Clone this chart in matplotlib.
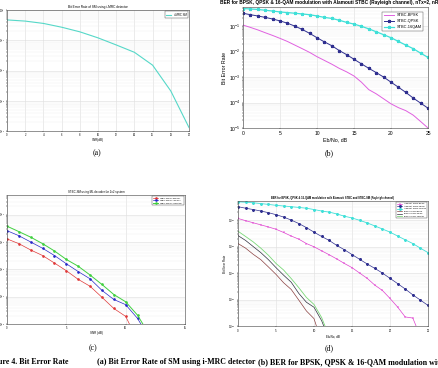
import numpy as np
import matplotlib
matplotlib.use('Agg')
import matplotlib.pyplot as plt

plt.rcParams['font.family'] = ['Liberation Sans', 'DejaVu Sans']

# (a) SM with i-MRC detector
snr_a = [0, 2, 4, 6, 8, 10, 12, 14, 16, 18, 20]
ber_a = [0.47, 0.43, 0.36, 0.27, 0.19, 0.12, 0.07, 0.04, 0.015, 0.0021, 0.00013]

# (b) Alamouti STBC
eb = list(range(26))
stbc_bpsk = [0.11, 0.089, 0.071, 0.055, 0.043, 0.033, 0.025, 0.018, 0.013, 0.0093,
             0.0063, 0.0045, 0.0032, 0.0022, 0.0016, 0.0011, 6.3e-4, 3.2e-4, 2.2e-4, 1.4e-4,
             8.9e-5, 6.3e-5, 4.8e-5, 3.2e-5, 1.8e-5, 1.0e-5]
stbc_qpsk = [0.32, 0.28, 0.25, 0.22, 0.19, 0.16, 0.13, 0.10, 0.074, 0.052,
             0.035, 0.024, 0.017, 0.011, 0.0076, 0.005, 0.0033, 0.0022, 0.0015, 0.001,
             6.3e-4, 4.0e-4, 2.5e-4, 1.5e-4, 9.5e-5, 6.0e-5]
stbc_16qam = [0.49, 0.47, 0.45, 0.42, 0.39, 0.36, 0.34, 0.32, 0.30, 0.28,
              0.25, 0.22, 0.20, 0.17, 0.14, 0.12, 0.098, 0.078, 0.060, 0.046,
              0.035, 0.025, 0.018, 0.013, 0.0087, 0.0059]

# (c) STBC-SM, ML decoder, 2x2
snr_c = list(range(13))
sm_bpsk = [0.013, 0.0087, 0.0051, 0.0032, 0.0017, 8.9e-4, 4.3e-4, 2.4e-4, 9.5e-5, 3.7e-5, 1.9e-5, 2.5e-6]
sm_qpsk = [0.026, 0.017, 0.010, 0.0059, 0.0032, 0.0016, 8.3e-4, 4.5e-4, 1.7e-4, 7.9e-5, 5.1e-5, 1.6e-5, 3e-6]
sm_16qam = [0.038, 0.024, 0.015, 0.0087, 0.0047, 0.0023, 0.0013, 6.2e-4, 2.8e-4, 1.2e-4, 6.5e-5, 2.1e-5, 4e-6]

# (d) Alamouti BPSK run used in the comparison plot
eb_d = list(range(25))
stbc_bpsk_d = [0.115, 0.095, 0.079, 0.066, 0.055, 0.045, 0.034, 0.025, 0.019, 0.013,
               0.0098, 0.0069, 0.0049, 0.0034, 0.0023, 0.0016, 0.001, 6.3e-4, 3.5e-4, 2.2e-4,
               1.1e-4, 5.2e-5, 2.2e-5, 2.0e-5, 4e-6]

W, H = 439, 368
fig = plt.figure(figsize=(W / 100, H / 100), dpi=100)


def box(l, t, r, b):
    return [l / W, 1 - b / H, (r - l) / W, (b - t) / H]


def style(ax, fs, pad=1):
    ax.set_yscale('log')
    ax.grid(True, which='major', color='#dcdcdc', lw=0.4)
    ax.grid(True, which='minor', color='#efefef', lw=0.3)
    ax.tick_params(which='both', labelsize=fs, length=1, width=0.3, pad=pad)
    ax.tick_params(which='minor', labelleft=False)
    for s in ax.spines.values():
        s.set_linewidth(0.4)
        s.set_color('#404040')


# ---- (a)
ax = fig.add_axes(box(7, 10, 189, 131))
ax.plot(snr_a, ber_a, color='#56d8c8', lw=0.8, label='i-MRC SM')
style(ax, 1.9, pad=0.5)
ax.set_xlim(0, 20)
ax.set_ylim(1e-4, 1)
ax.set_xticks(range(0, 21, 2))
ax.set_title('Bit Error Rate of SM using i-MRC detector', fontsize=2.3, pad=1.5)
ax.set_xlabel('SNR(dB)', fontsize=2.2, labelpad=0.5)
ax.legend(fontsize=2, loc='upper right', handlelength=2, fancybox=False,
          edgecolor='#404040', framealpha=1).get_frame().set_linewidth(0.3)

# ---- (b)
ax = fig.add_axes(box(243, 7, 428, 128))
ax.plot(eb, stbc_bpsk, color='#e060e0', lw=0.7, label='STBC-BPSK')
ax.plot(eb, stbc_qpsk, color='#303090', lw=0.7, marker='*', ms=2.2, label='STBC-QPSK')
ax.plot(eb, stbc_16qam, color='#40e0d8', lw=0.9, marker='*', ms=2.2, label='STBC-16QAM')
style(ax, 3.6)
ax.set_xlim(0, 25)
ax.set_ylim(1e-5, 10 ** -0.25)
ax.set_xlabel('Eb/No, dB', fontsize=3.8, labelpad=1)
ax.set_ylabel('Bit Error Rate', fontsize=3.8, labelpad=1)
ax.set_title('BER for BPSK, QPSK & 16-QAM modulation with Alamouti STBC (Rayleigh channel), nTx=2, nRx=2',
             fontsize=3.4, fontweight='bold', loc='left', x=-0.125, pad=2)
ax.legend(fontsize=2.8, loc='upper right', handlelength=2.5, fancybox=False,
          edgecolor='#404040', framealpha=1, borderaxespad=1.2).get_frame().set_linewidth(0.3)

# ---- (c)
ax = fig.add_axes(box(7, 195, 185, 324))
ax.plot(snr_c[:len(sm_bpsk)], sm_bpsk, color='#e03838', lw=0.5, marker='.', ms=1.8, label='STBC-SM-ML(BPSK)')
ax.plot(snr_c, sm_qpsk, color='#2828c8', lw=0.5, marker='.', ms=1.8, label='STBC-SM-ML(QPSK)')
ax.plot(snr_c, sm_16qam, color='#40d040', lw=0.7, marker='.', ms=1.8, label='STBC-SM-ML(16QAM)')
style(ax, 1.9, pad=0.5)
ax.set_xlim(0, 15)
ax.set_ylim(1e-5, 10 ** -0.28)
ax.set_xticks([0, 5, 10, 15])
ax.set_xlabel('SNR (dB)', fontsize=2.2, labelpad=1)
ax.set_title('STBC-SM using ML decoder for 2x2 system', fontsize=2.1, pad=1.5)
ax.legend(fontsize=1.6, loc='upper right', handlelength=2.5, fancybox=False,
          edgecolor='#404040', framealpha=1).get_frame().set_linewidth(0.3)

# ---- (d)
ax = fig.add_axes(box(238, 201, 428, 326))
ax.plot(eb_d, stbc_bpsk_d, color='#e040d0', lw=0.5, marker='+', ms=1.6, mew=0.3, label='Alamouti STBC-BPSK')
ax.plot(eb, stbc_qpsk, color='#303090', lw=0.5, marker='*', ms=1.6, label='Alamouti STBC-QPSK')
ax.plot(eb, stbc_16qam, color='#40e0d8', lw=0.6, marker='*', ms=1.6, label='Alamouti STBC-16QAM')
ax.plot(snr_c[:len(sm_bpsk)], sm_bpsk, color='#8a4040', lw=0.5, label='STBC-SM-ML-BPSK')
ax.plot(snr_c, sm_qpsk, color='#303040', lw=0.5, label='STBC-SM-ML-QPSK')
ax.plot(snr_c, sm_16qam, color='#7ad878', lw=0.6, label='STBC-SM-ML-16QAM')
style(ax, 2)
ax.set_xlim(0, 25)
ax.set_ylim(1e-5, 10 ** -0.28)
ax.set_xlabel('Eb/No, dB', fontsize=2.2, labelpad=1)
ax.set_ylabel('Bit Error Rate', fontsize=2.2, labelpad=1)
ax.set_title('BER for BPSK, QPSK & 16-QAM modulation with Alamouti STBC and STBC-SM (Rayleigh channel)',
             fontsize=1.9, fontweight='bold', pad=1.5)
ax.legend(fontsize=1.5, loc='upper right', handlelength=2.5, fancybox=False,
          edgecolor='#404040', framealpha=1).get_frame().set_linewidth(0.3)

# sub-figure labels and caption
cap = dict(family=['Liberation Serif', 'DejaVu Serif'], fontsize=5.7)
fig.text(97 / W, 1 - 153 / H, '(a)', ha='center', va='center', **cap)
fig.text(329 / W, 1 - 153 / H, '(b)', ha='center', va='center', **cap)
fig.text(93 / W, 1 - 348 / H, '(c)', ha='center', va='center', **cap)
fig.text(329 / W, 1 - 348 / H, '(d)', ha='center', va='center', **cap)
fig.text(-2 / W, 1 - 362 / H, 'ure 4. Bit Error Rate', ha='left', va='center', fontweight='bold', **cap)
fig.text(97 / W, 1 - 362 / H, '(a) Bit Error Rate of SM using i-MRC detector', ha='left', va='center',
         fontweight='bold', **cap)
fig.text(258 / W, 1 - 362 / H, '(b) BER for BPSK, QPSK & 16-QAM modulation with', ha='left', va='center',
         fontweight='bold', **cap)

fig.savefig('out.png', dpi=100)
